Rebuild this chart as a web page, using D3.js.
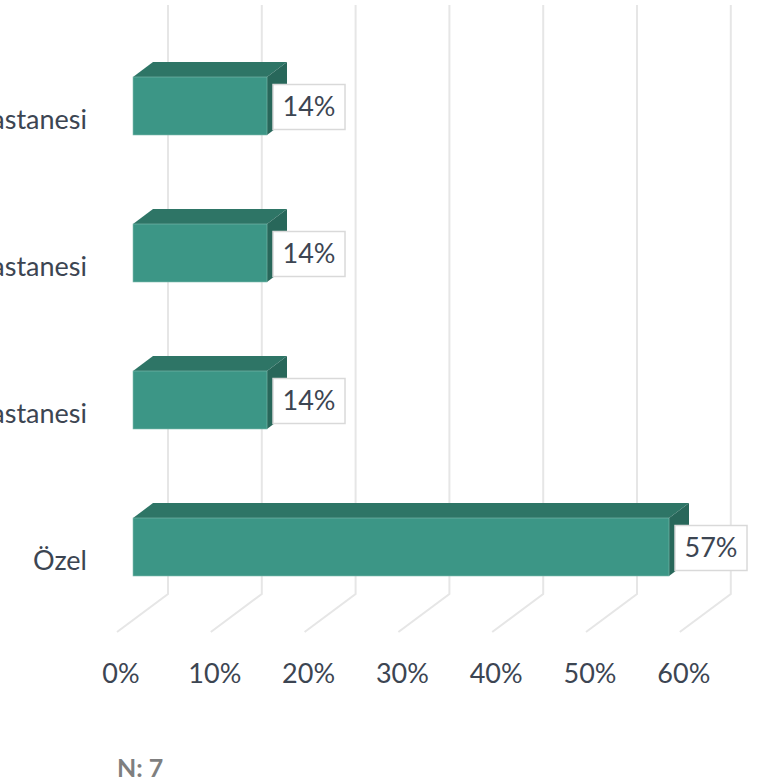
<!DOCTYPE html>
<html>
<head>
<meta charset="utf-8">
<script src="https://cdn.jsdelivr.net/npm/d3@7"></script>
<style>
  html, body { margin: 0; padding: 0; background: #fff; overflow: hidden; }
  svg { display: block; }
</style>
</head>
<body>
<svg id="chart" width="775" height="781"></svg>
<script>
// Hospital types, top to bottom
const categories = ["Eğitim ve Araştırma Hastanesi", "Üniversite Hastanesi", "Devlet Hastanesi", "Özel"];
// Share of respondents
const values = [1/7, 1/7, 1/7, 4/7];
const valueLabels = ["14%", "14%", "14%", "57%"];
const ticks = [0, 0.1, 0.2, 0.3, 0.4, 0.5, 0.6];
const tickLabels = ["0%", "10%", "20%", "30%", "40%", "50%", "60%"];
const note = "N: 7";

const svg = d3.select("#chart");
const font = "Lato, 'Open Sans', sans-serif";
const textColor = "#3c4552";

// Oblique projection: depth z in [0,1] from floor front edge to back wall
const DX = 51, DY = -38;
const x = d3.scaleLinear().domain([0, 0.6]).range([117, 117 + 6 * 93.8]);
const proj = (v, y, z) => [x(v) + z * DX, y + z * DY];

// Bar front faces sit at zFront, back faces at zBack
const zFront = 0.314, zBack = 0.706;

// Band scale for the floor-level (z = 0) vertical position of each bar
const y = d3.scaleBand().domain(categories)
  .range([77 - zFront * DY, 77 - zFront * DY + 3 * 147 + 58])
  .paddingInner(89 / 147).paddingOuter(0);

const floorBack = 594;   // bottom of back wall
const wallTop = 5;

// Gridlines on the back wall plus their diagonals across the floor
const grid = svg.append("g");
ticks.forEach(t => {
  const [bx, by] = proj(t, floorBack - DY, 1);
  const [fx, fy] = proj(t, floorBack - DY, 0);
  grid.append("path")
    .attr("d", `M${bx},${wallTop}L${bx},${by}L${fx},${fy}`)
    .attr("fill", "none")
    .attr("stroke", "#e6e6e6")
    .attr("stroke-width", 2);
});

// Axis tick labels along the floor front edge
svg.append("g").selectAll("text").data(ticks).join("text")
  .attr("x", (d) => x(d) + 4)
  .attr("y", 683)
  .attr("text-anchor", "middle")
  .attr("font-family", font)
  .attr("font-size", 27)
  .attr("fill", textColor)
  .text((d, i) => tickLabels[i]);

// Category labels (long names run past the left edge)
svg.append("g").selectAll("text").data(categories).join("text")
  .attr("x", 87)
  .attr("y", (d) => y(d) + y.bandwidth() / 2 + 2)
  .attr("dy", "0.35em")
  .attr("text-anchor", "end")
  .attr("font-family", font)
  .attr("font-size", 27)
  .attr("fill", textColor)
  .text((d) => d);

// 3D bars
const bars = svg.append("g");
categories.forEach((c, i) => {
  const v = values[i];
  const yt = y(c), yb = y(c) + y.bandwidth();
  const pt = (val, yy, z) => proj(val, yy, z).join(",");
  // top face
  bars.append("polygon")
    .attr("points", [pt(0, yt, zFront), pt(v, yt, zFront), pt(v, yt, zBack), pt(0, yt, zBack)].join(" "))
    .attr("fill", "#2e7566");
  // right side face
  bars.append("polygon")
    .attr("points", [pt(v, yt, zFront), pt(v, yt, zBack), pt(v, yb, zBack), pt(v, yb, zFront)].join(" "))
    .attr("fill", "#28675a");
  // front face
  const [fx0, fy0] = proj(0, yt, zFront);
  const [fx1, fy1] = proj(v, yb, zFront);
  bars.append("rect")
    .attr("x", fx0).attr("y", fy0)
    .attr("width", fx1 - fx0).attr("height", fy1 - fy0)
    .attr("fill", "#3c9686")
    .attr("stroke", "#7fbcb0")
    .attr("stroke-width", 0.6);

  // value label box
  const cy = (fy0 + fy1) / 2;
  const bw = 72, bh = 45;
  const bx = fx1 + 6;
  bars.append("rect")
    .attr("x", bx).attr("y", cy - bh / 2 + 1)
    .attr("width", bw).attr("height", bh)
    .attr("fill", "#fff")
    .attr("stroke", "#d9d9d9")
    .attr("stroke-width", 1.5);
  bars.append("text")
    .attr("x", bx + bw / 2)
    .attr("y", cy + 1)
    .attr("dy", "0.35em")
    .attr("text-anchor", "middle")
    .attr("font-family", font)
    .attr("font-size", 27)
    .attr("fill", textColor)
    .text(valueLabels[i]);
});

// Sample size note
svg.append("text")
  .attr("x", 117)
  .attr("y", 777)
  .attr("font-family", font)
  .attr("font-size", 25)
  .attr("font-weight", "bold")
  .attr("fill", "#7f7f7f")
  .text(note);
</script>
</body>
</html>
